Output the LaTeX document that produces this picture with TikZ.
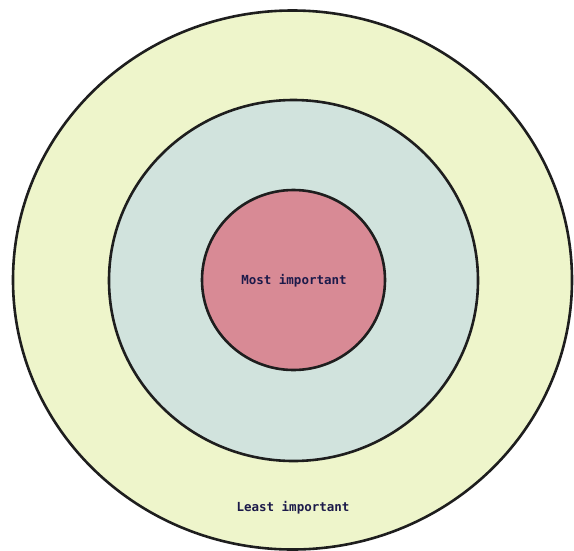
\documentclass[tikz,border=0pt]{standalone}
\usepackage{fontspec}
\newfontfamily\labelfont{DejaVu Sans Mono}
\definecolor{outerfill}{HTML}{EEF5CB}
\definecolor{midfill}{HTML}{D1E3DD}
\definecolor{innerfill}{HTML}{D88A95}
\definecolor{ringline}{HTML}{1E1E1E}
\definecolor{labeltext}{HTML}{1C1A4A}
\begin{document}
\begin{tikzpicture}[x=1pt,y=-1pt,
  ring/.style={draw=ringline,line width=2.6pt},
  lbl/.style={text=labeltext,font=\labelfont\bfseries\fontsize{12.5}{14}\selectfont}]
\useasboundingbox (0,0) rectangle (574,550);
\filldraw[ring,fill=outerfill] (292.5,280) ellipse [x radius=279.5, y radius=269.5];
\filldraw[ring,fill=midfill] (293.5,280.5) ellipse [x radius=184.5, y radius=180.5];
\filldraw[ring,fill=innerfill] (293.5,280) ellipse [x radius=91.5, y radius=90];
\node[lbl] (most) at (294,281) {Most important};
\node[lbl] (least) at (293,508) {Least important};
\end{tikzpicture}
\end{document}
